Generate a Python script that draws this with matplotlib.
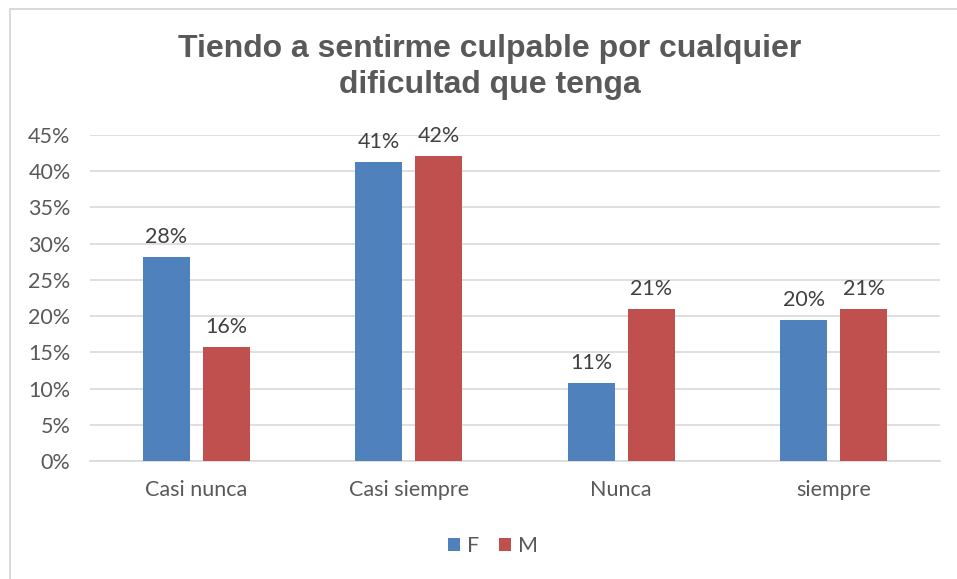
import matplotlib.pyplot as plt
import numpy as np
from matplotlib.patches import Rectangle

# Datos
categorias = ['Casi nunca', 'Casi siempre', 'Nunca', 'siempre']
valores_f = [28.2, 41.3, 10.8, 19.5]
valores_m = [15.8, 42.1, 21.0, 21.0]
etiquetas_f = ['28%', '41%', '11%', '20%']
etiquetas_m = ['16%', '42%', '21%', '21%']

azul = '#4f81bd'
rojo = '#c0504d'
gris_texto = '#595959'

plt.rcParams['font.family'] = ['Lato', 'DejaVu Sans']

fig = plt.figure(figsize=(9.57, 5.79), dpi=100)
ax = fig.add_axes([90 / 957, 1 - 461 / 579, 850 / 957, 326 / 579])

# Marco del gráfico (se sale por la derecha y por abajo)
fig.patches.append(Rectangle((9.5 / 957, -0.05), 1.0, 1 - 8.5 / 579 + 0.05,
                             transform=fig.transFigure, fill=False,
                             edgecolor='#d9d9d9', linewidth=1.4))

x = np.arange(len(categorias))
ancho = 0.22
desp = 0.141
barras_f = ax.bar(x - desp, valores_f, ancho, color=azul, label='F', zorder=3)
barras_m = ax.bar(x + desp, valores_m, ancho, color=rojo, label='M', zorder=3)

for barras, etiquetas in [(barras_f, etiquetas_f), (barras_m, etiquetas_m)]:
    for b, t in zip(barras, etiquetas):
        ax.annotate(t, (b.get_x() + b.get_width() / 2, b.get_height()),
                    xytext=(0, 7), textcoords='offset points', ha='center', va='bottom',
                    fontsize=15.5, color='#404040')

ax.set_xlim(-0.5, 3.5)
ax.set_ylim(0, 45)
ax.set_yticks(range(0, 46, 5))
ax.set_yticklabels([f'{v}%' for v in range(0, 46, 5)])
ax.set_xticks(x)
ax.set_xticklabels(categorias)
ax.tick_params(axis='both', length=0, labelsize=15.5, labelcolor=gris_texto)
ax.tick_params(axis='x', pad=14)
ax.tick_params(axis='y', pad=14)
ax.grid(axis='y', color='#d9d9d9', linewidth=1.2, zorder=0)
for s in ['top', 'right', 'left']:
    ax.spines[s].set_visible(False)
ax.spines['bottom'].set_color('#d9d9d9')
ax.spines['bottom'].set_linewidth(1.2)

fig.text(490 / 957, 1 - 67 / 579, 'Tiendo a sentirme culpable por cualquier\ndificultad que tenga',
         ha='center', va='center', fontsize=23, fontweight='bold', color=gris_texto,
         family='Liberation Sans', linespacing=1.3)

fig.legend(loc='center', bbox_to_anchor=(493 / 957, 1 - 546 / 579), ncol=2, frameon=False,
           fontsize=15.5, labelcolor=gris_texto, handlelength=0.55, handleheight=0.55,
           handletextpad=0.35, columnspacing=0.9)

fig.savefig('out.png', dpi=100)
